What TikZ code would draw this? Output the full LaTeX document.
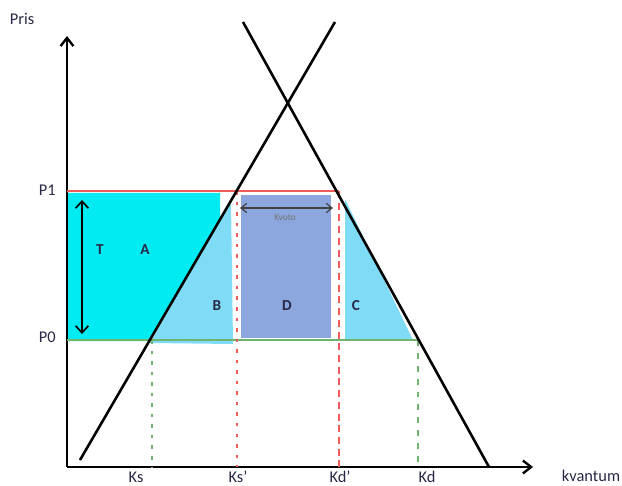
\documentclass[tikz,border=0pt]{standalone}
\usepackage{fontspec}
\setmainfont{Carlito}
\usetikzlibrary{arrows.meta}

\definecolor{cyanA}{RGB}{0,236,242}
\definecolor{lightB}{RGB}{128,220,246}
\definecolor{blueD}{RGB}{140,166,222}
\definecolor{redP}{RGB}{240,90,90}
\definecolor{greenP}{RGB}{110,180,110}
\definecolor{txt}{RGB}{40,40,70}

\begin{document}
\begin{tikzpicture}[x=0.03cm,y=-0.03cm,
          lbl/.style={font=\fontsize{14}{16}\selectfont,text=txt,inner sep=1pt},
          area/.style={font=\fontsize{13}{15}\selectfont\bfseries,text=txt,inner sep=0pt},
          axis/.style={line width=2pt,-{Straight Barb[length=7pt,width=11pt,line width=2pt]}},
          curve/.style={line width=2.2pt},
          guide/.style={line width=1.1pt,dash pattern=on 3pt off 6pt}]
        \useasboundingbox (0,0) rectangle (622,486);
        % areas
        \fill[cyanA] (68,193) -- (220,193) -- (220,222) -- (150,341) -- (68,341) -- cycle;
        \fill[lightB] (150,343) -- (231,202) -- (233,344) -- cycle;
        \fill[lightB] (345,199) -- (345,340) -- (413,340) -- cycle;
        \fill[blueD] (241,195) rectangle (331,338);
        % axes
        \coordinate (O) at (67,467);
        \coordinate (ytop) at (67,36);
        \coordinate (xend) at (533,467);
        \draw[axis] (O) -- (ytop);
        \draw[axis] (O) -- (xend);
        \node[lbl] (pris) at (22,19) {Pris};
        \node[lbl] (kvantum) at (591,476) {kvantum};
        % price levels
        \coordinate (p1a) at (67,191);  \coordinate (p1b) at (339,191);
        \coordinate (p0a) at (67,340);  \coordinate (p0b) at (418,340);
        \draw[redP,line width=1.1pt] (p1a) -- (p1b);
        \draw[greenP,line width=1.1pt] (p0a) -- (p0b);
        \node[lbl,anchor=east] (P1) at (57,190) {P1};
        \node[lbl,anchor=east] (P0) at (57,337) {P0};
        % quantities
        \coordinate (ks) at (152,340);   \coordinate (ksb) at (152,467);
        \coordinate (ks2) at (237,191);  \coordinate (ks2b) at (237,467);
        \coordinate (kd2) at (339,191);  \coordinate (kd2b) at (339,467);
        \coordinate (kd) at (418,340);   \coordinate (kdb) at (418,467);
        \draw[guide,greenP] (ks) -- (ksb);
        \draw[guide,redP] (ks2) -- (ks2b);
        \draw[guide,redP,dash pattern=on 6pt off 4pt] (kd2) -- (kd2b);
        \draw[guide,greenP,dash pattern=on 5pt off 6pt] (kd) -- (kdb);
        \node[lbl] (Ks) at (136,477) {Ks};
        \node[lbl] (Ks2) at (238,477) {Ks'};
        \node[lbl] (Kd2) at (340,477) {Kd'};
        \node[lbl] (Kd) at (427,477) {Kd};
        % supply and demand
        \coordinate (s0) at (80,460);  \coordinate (s1) at (335,22);
        \coordinate (d0) at (243,22);  \coordinate (d1) at (489,467);
        \draw[curve] (s0) -- (s1);
        \draw[curve] (d0) -- (d1);
        % arrows
        \coordinate (t0) at (82,200);  \coordinate (t1) at (82,334);
        \draw[line width=1.4pt,{Straight Barb[length=6pt,width=11pt]}-{Straight Barb[length=6pt,width=11pt]}] (t0) -- (t1);
        \coordinate (q0) at (240,208); \coordinate (q1) at (333,208);
        \draw[line width=1pt,black!75,{Straight Barb[length=5pt,width=8pt]}-{Straight Barb[length=5pt,width=8pt]}] (q0) -- (q1);
        \node[font=\fontsize{8}{9}\selectfont,text=black!55] (kvoto) at (285,218) {Kvoto};
        % area labels
        \node[area] (T) at (100,250) {T};
        \node[area] (A) at (145,250) {A};
        \node[area] (B) at (217,306) {B};
        \node[area] (D) at (287,306) {D};
        \node[area] (C) at (356,306) {C};
\end{tikzpicture}
\end{document}
